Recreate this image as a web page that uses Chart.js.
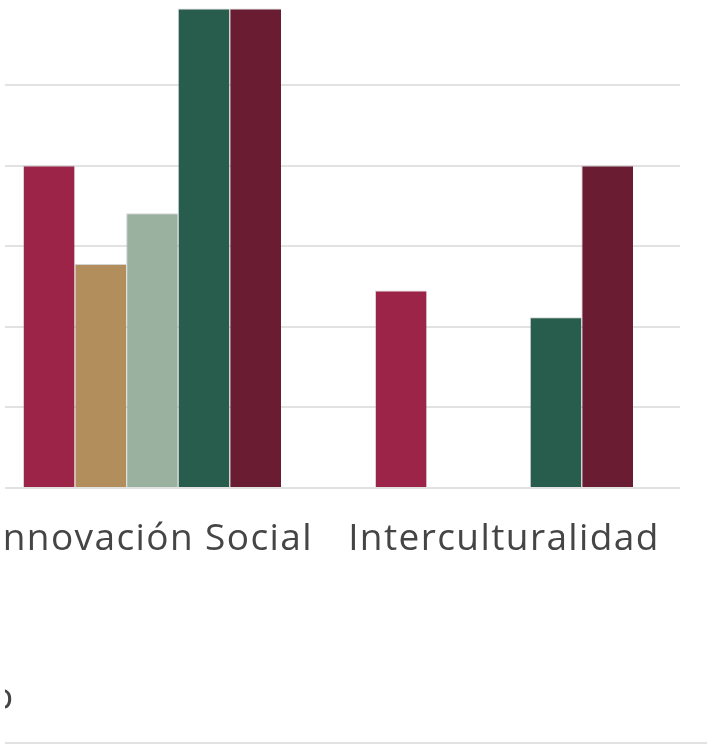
<!DOCTYPE html>
<html>
<head>
<meta charset="utf-8">
<script src="https://cdn.jsdelivr.net/npm/chart.js@4.4.0/dist/chart.umd.min.js"></script>
<style>
  html,body{margin:0;padding:0;background:#fff;}
  #page{position:relative;width:707px;height:745px;overflow:hidden;background:#fff;}
  #clip{position:absolute;left:5px;top:0;width:702px;height:745px;overflow:hidden;}
  #chartBox{position:absolute;left:-29px;top:0;width:704px;height:745px;}
  #frag{position:absolute;left:-14px;top:676px;font-family:"Open Sans",sans-serif;font-weight:400;font-size:37px;color:#454545;line-height:1;}
  #rule{position:absolute;left:0;top:742px;width:702px;height:2px;background:#e2e2e2;}
</style>
</head>
<body>
<div id="page">
  <div id="clip">
    <div id="chartBox"><canvas id="chart"></canvas></div>
    <div id="frag">o</div>
    <div id="rule"></div>
  </div>
</div>
<script>
const categories = ['Innovación Social', 'Interculturalidad'];
const serie1 = [4.0, 2.45];
const serie2 = [2.78, 0];
const serie3 = [3.41, 0];
const serie4 = [5.95, 2.12];
const serie5 = [5.95, 4.0];
const yTicksMax = 6;

const colors = ['#9D2449', '#B38E5D', '#9BB1A0', '#285C4D', '#691C32'];
const seriesNames = ['Serie 1', 'Serie 2', 'Serie 3', 'Serie 4', 'Serie 5'];
const allSeries = [serie1, serie2, serie3, serie4, serie5];

// a bit of letter spacing so the labels get the width of the original font
const spacing = {
  id: 'spacing',
  beforeDraw: chart => { chart.ctx.letterSpacing = '1.4px'; }
};

const ctx = document.getElementById('chart').getContext('2d');
new Chart(ctx, {
  type: 'bar',
  data: {
    labels: categories,
    datasets: allSeries.map((s, i) => ({
      label: seriesNames[i],
      data: s,
      backgroundColor: colors[i],
      borderColor: 'rgba(170,170,170,0.5)',
      borderWidth: {top: 1, left: 1, right: 0, bottom: 0},
      categoryPercentage: 0.733,
      barPercentage: 1
    }))
  },
  options: {
    responsive: true,
    maintainAspectRatio: false,
    animation: false,
    layout: {padding: {top: 4.4, left: 0, right: 0, bottom: 0}},
    plugins: {legend: {display: false}, tooltip: {enabled: false}},
    scales: {
      x: {
        grid: {display: false},
        border: {display: false},
        ticks: {
          color: '#454545',
          font: {family: 'Open Sans', size: 37, weight: 400},
          padding: 21,
          maxRotation: 0,
          autoSkip: false
        },
        afterFit: s => { s.height = 257; }
      },
      y: {
        min: 0,
        max: yTicksMax,
        ticks: {display: false, stepSize: 1},
        border: {display: false},
        grid: {
          drawTicks: false,
          lineWidth: 2,
          color: c => (c.tick && c.tick.value >= yTicksMax) ? 'rgba(0,0,0,0)' : '#e2e2e2'
        },
        afterFit: s => { s.width = 0; }
      }
    }
  },
  plugins: [spacing]
});
</script>
</body>
</html>
